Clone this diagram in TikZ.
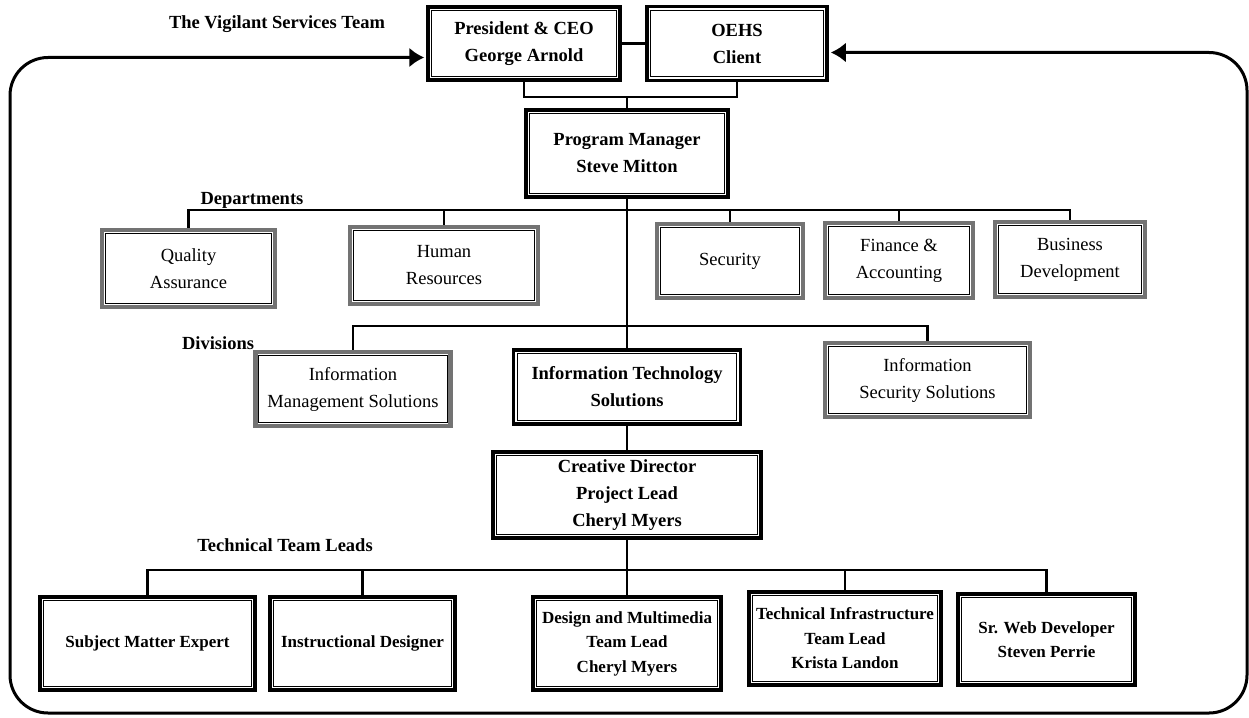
\documentclass[tikz,border=0pt]{standalone}
\usepackage{fontspec}
\setmainfont{Liberation Serif}
\usepackage{tikz}
\usetikzlibrary{arrows.meta,calc}

\begin{document}
\begin{tikzpicture}[x=1pt, y=-1pt, >={Latex[length=15pt,width=20pt]}, line join=miter,
    txt/.style={font=\fontsize{18.5}{27}\selectfont, align=center, inner sep=0pt},
    lead/.style={txt, font=\fontsize{18.5}{27}\selectfont\bfseries, draw, line width=3.5pt},
    small/.style={font=\fontsize{17}{24.5}\selectfont\bfseries},
    dept/.style={txt, draw=black!55, line width=4.5pt},
    tag/.style={txt, font=\fontsize{18.5}{27}\selectfont\bfseries},
    link/.style={line width=2.6pt},
    frame/.style={line width=3pt, <->}]
            \useasboundingbox (0,0) rectangle (1249,717);

            % top level
            \node[lead, minimum width=192, minimum height=73] (pres) at (524,43.5) {President \& CEO\\George Arnold};
            \node[lead, minimum width=180, minimum height=74] (oehs) at (737,43.5) {OEHS\\Client};
            \node[lead, minimum width=202, minimum height=87] (pm) at (627,153.5) {Program Manager\\Steve Mitton};
            \node[tag] (team) at (277,24) {The Vigilant Services Team};

            % departments
            \node[tag] (deps) at (252,200) {Departments};
            \node[dept, minimum width=173, minimum height=77] (qa) at (188.5,268.5) {Quality\\Assurance};
            \node[dept, minimum width=188, minimum height=77] (hr) at (444,265.5) {Human\\Resources};
            \node[dept, minimum width=146, minimum height=74] (sec) at (730,261) {Security};
            \node[dept, minimum width=148, minimum height=75] (fin) at (899,260.5) {Finance \&\\Accounting};
            \node[dept, minimum width=150, minimum height=75] (bus) at (1070,259.5) {Business\\Development};

            % divisions
            \node[tag] (divs) at (218,343) {Divisions};
            \node[dept, minimum width=195, minimum height=74] (ims) at (353,389) {Information\\Management Solutions};
            \node[lead, minimum width=227, minimum height=74] (its) at (627,387) {Information Technology\\Solutions};
            \node[dept, minimum width=205, minimum height=74] (iss) at (927.5,380) {Information\\Security Solutions};
            \node[lead, minimum width=268, minimum height=86] (cd) at (627,495) {Creative Director\\Project Lead\\Cheryl Myers};

            % team leads
            \node[tag] (tls) at (285,545) {Technical Team Leads};
            \node[lead, small, minimum width=215, minimum height=93] (sme) at (147.5,643.5) {Subject Matter Expert};
            \node[lead, small, minimum width=185, minimum height=93] (id) at (362.5,643.5) {Instructional Designer};
            \node[lead, small, minimum width=188, minimum height=93] (dm) at (627,643.5) {Design and Multimedia\\Team Lead\\Cheryl Myers};
            \node[lead, small, minimum width=192, minimum height=93] (ti) at (845,638.5) {Technical Infrastructure\\Team Lead\\Krista Landon};
            \node[lead, small, minimum width=177, minimum height=91] (swd) at (1046.5,639.5) {Sr. Web Developer\\Steven Perrie};

            % inner rules of the boxes
            \foreach \n in {pres,oehs,pm,qa,hr,sec,fin,bus,ims,its,iss,cd,sme,id,dm,ti,swd}
                \draw[line width=1.2pt] ($(\n.south west)+(5.5,-5.5)$) rectangle ($(\n.north east)+(-5.5,5.5)$);

            \coordinate (jt) at (627,97);
            \coordinate (dline) at (0,210);
            \coordinate (vline) at (0,326);
            \coordinate (tline) at (0,570);

            \draw[link] (pres.east) -- (oehs.west);
            \draw[link] (pres.south) |- (jt) -| (oehs.south);
            \draw[link] (jt) -- (pm.north);
            \draw[link] (pm.south) -- (its.north);
            \draw[link] (its.south) -- (cd.north);
            \draw[link] (cd.south) -- (dm.north);

            \draw[link] (qa.north) |- (dline -| bus.north) -- (bus.north);
            \foreach \n in {hr,sec,fin}
                \draw[link] (\n.north) -- (\n.north |- dline);
            \draw[link] (ims.north) |- (vline -| iss.north) -- (iss.north);
            \draw[link] (sme.north) |- (tline -| swd.north) -- (swd.north);
            \foreach \n in {id,ti}
                \draw[link] (\n.north) -- (\n.north |- tline);

            % outer loop with the two arrows
            \coordinate (la) at ([xshift=-2pt,yshift=-14pt]pres.west);
            \coordinate (ra) at ([xshift=2pt,yshift=-9pt]oehs.east);
            \draw[frame, rounded corners=38pt] (la) -- (10,57.5) -- (10,713) -- (1247,713) -- (1247,52.5) -- (ra);

        \end{tikzpicture}
\end{document}
